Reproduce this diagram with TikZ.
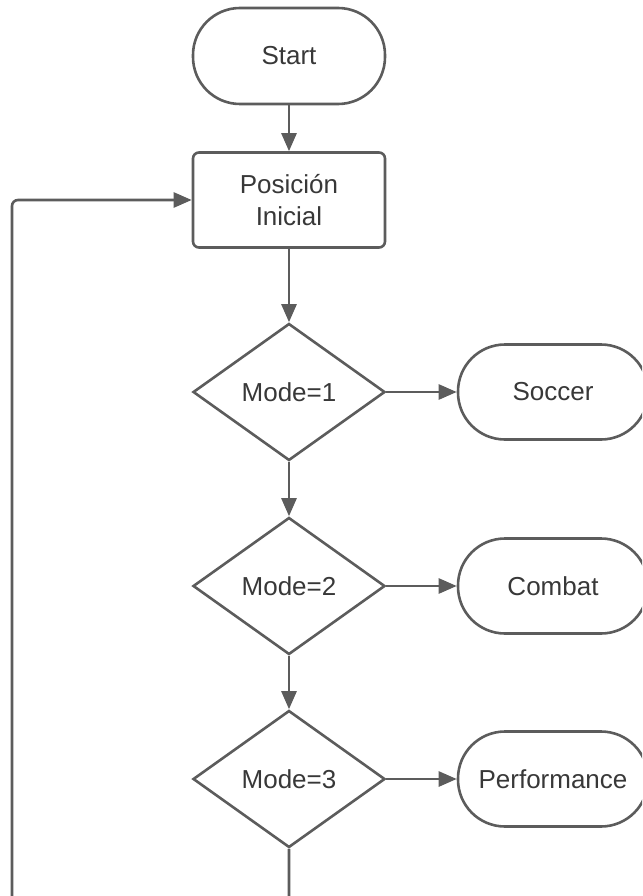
\documentclass[tikz,border=0pt]{standalone}
\usepackage{fontspec}
\setmainfont{Liberation Sans}
\usetikzlibrary{shapes.geometric,arrows.meta}
\definecolor{linegray}{HTML}{5C5C5C}
\definecolor{textgray}{HTML}{383838}
\begin{document}
\begin{tikzpicture}[x=1pt, y=-1pt,
  every node/.style={font=\fontsize{26}{32}\selectfont, text=textgray, align=center},
  term/.style={draw=linegray, line width=2.6pt, rounded corners=47pt, minimum width=192pt, minimum height=96pt},
  proc/.style={draw=linegray, line width=2.6pt, rounded corners=6pt, minimum width=192pt, minimum height=95pt},
  decide/.style={diamond, draw=linegray, line width=2.6pt, inner sep=0pt, minimum width=192pt, minimum height=137pt},
  flow/.style={draw=linegray, line width=2.6pt, -{Triangle[length=18pt,width=15pt]}}]
  \useasboundingbox (0,0) rectangle (642,896);
  \clip (0,0) rectangle (642,896);
  % main column
  \node[term] (start) at (289,56) {Start};
  \node[proc] (pos) at (289,200) {Posición\\Inicial};
  \node[decide] (d1) at (289,392) {Mode=1};
  \node[decide] (d2) at (289,586) {Mode=2};
  \node[decide] (d3) at (289,779) {Mode=3};
  % modes
  \node[term, minimum width=190pt, minimum height=95pt] (soccer) at (553,392) {Soccer};
  \node[term, minimum width=190pt, minimum height=95pt] (combat) at (553,586) {Combat};
  \node[term, minimum width=190pt, minimum height=95pt] (perf) at (553,779) {Performance};
  \draw[flow] (start) -- (pos);
  \draw[flow] (pos) -- (d1);
  \draw[flow] (d1) -- (d2);
  \draw[flow] (d2) -- (d3);
  \draw[flow] (d1) -- (soccer);
  \draw[flow] (d2) -- (combat);
  \draw[flow] (d3) -- (perf);
  % back to start position
  \coordinate (loopbl) at (12,902);
  \draw[flow, rounded corners=6pt] (d3.south) |- (loopbl) |- (pos.west);
\end{tikzpicture}
\end{document}
